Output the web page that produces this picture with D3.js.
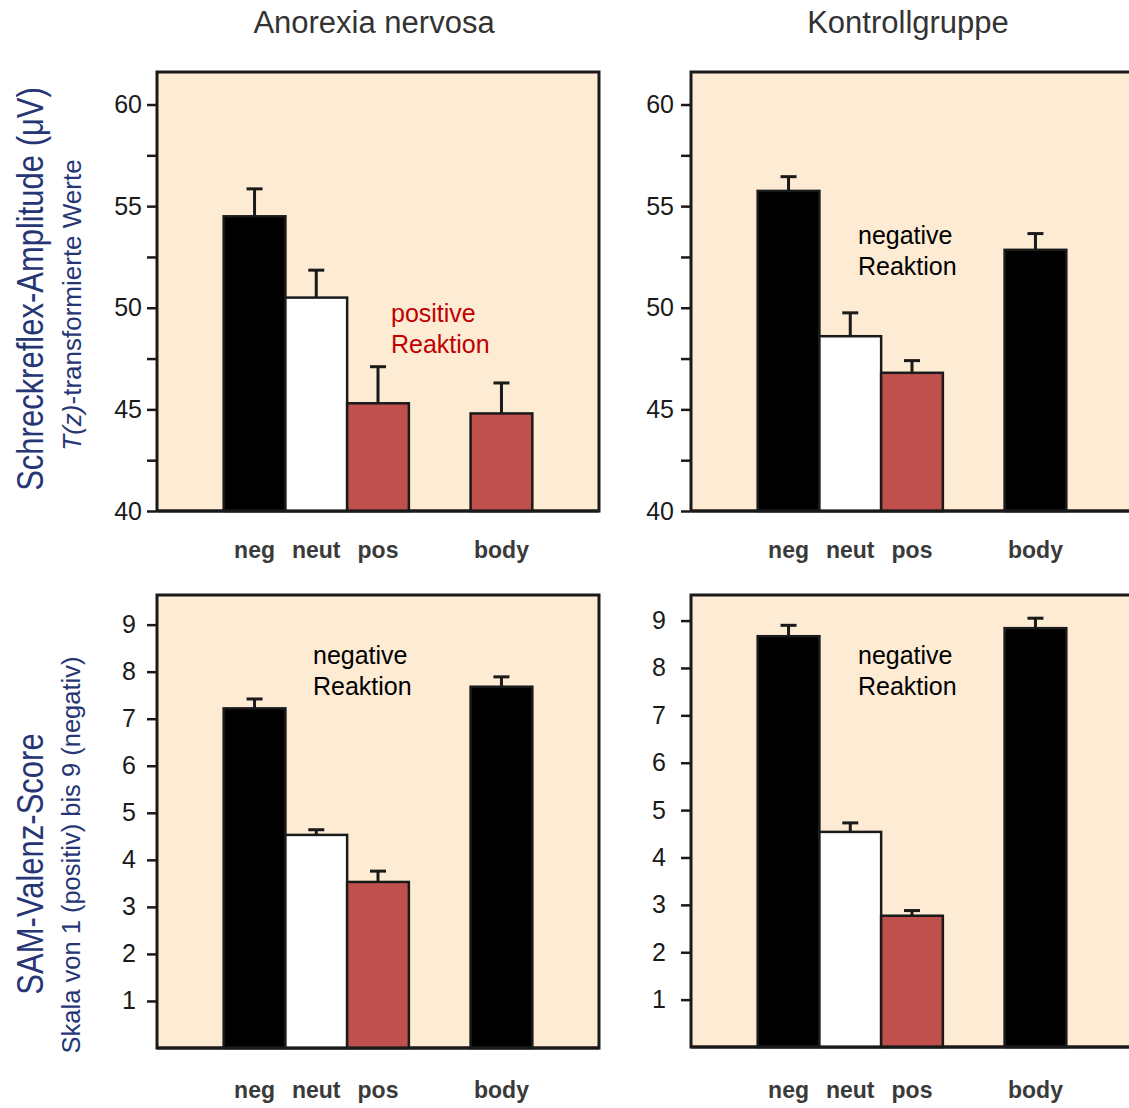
<!DOCTYPE html>
<html>
<head>
<meta charset="utf-8">
<script src="https://cdn.jsdelivr.net/npm/d3@7"></script>
<style>
  body { margin: 0; background: #fff; }
  text { font-family: "Liberation Sans", Arial, sans-serif; }
</style>
</head>
<body>
<div id="chart"></div>
<script>
// categories and values
var categories = ["neg", "neut", "pos", "body"];
var catPos = [0, 1, 2, 4];

var startleAN = [54.5, 50.5, 45.3, 44.8];
var startleANErr = [1.35, 1.35, 1.8, 1.5];
var startleKG = [55.75, 48.6, 46.8, 52.85];
var startleKGErr = [0.7, 1.15, 0.6, 0.8];

var samAN = [7.22, 4.53, 3.53, 7.68];
var samANErr = [0.2, 0.11, 0.23, 0.21];
var samKG = [8.67, 4.54, 2.77, 8.84];
var samKGErr = [0.23, 0.19, 0.11, 0.21];

var startleTicks = [40, 42.5, 45, 47.5, 50, 52.5, 55, 57.5, 60];
var samTicks = [1, 2, 3, 4, 5, 6, 7, 8, 9];

var titles = ["Anorexia nervosa", "Kontrollgruppe"];

var svgWidth = 1129;
var svgHeight = 1108;

var red = "#c0504d";
var bg = "#fdebd4";

var svg = d3.select("#chart")
  .append("svg")
  .attr("width", svgWidth)
  .attr("height", svgHeight);

var panels = [
  { values: startleAN, errs: startleANErr, x0: 157, x1: 599, top: 72, bottom: 511,
    domain: [40, 61.6], ticks: startleTicks, pad: 5,
    fills: ["#000", "#fff", red, red], labelY: 558,
    note: ["positive", "Reaktion"], noteX: 391, noteY: 322, noteColor: "#c00000" },
  { values: startleKG, errs: startleKGErr, x0: 691, x1: 1133, top: 72, bottom: 511,
    domain: [40, 61.6], ticks: startleTicks, pad: 7,
    fills: ["#000", "#fff", red, "#000"], labelY: 558,
    note: ["negative", "Reaktion"], noteX: 858, noteY: 244, noteColor: "#000" },
  { values: samAN, errs: samANErr, x0: 157, x1: 599, top: 595, bottom: 1048,
    domain: [0, 9.63], ticks: samTicks, pad: 11,
    fills: ["#000", "#fff", red, "#000"], labelY: 1098,
    note: ["negative", "Reaktion"], noteX: 313, noteY: 664, noteColor: "#000" },
  { values: samKG, errs: samKGErr, x0: 691, x1: 1133, top: 595, bottom: 1047,
    domain: [0, 9.54], ticks: samTicks, pad: 15,
    fills: ["#000", "#fff", red, "#000"], labelY: 1098,
    note: ["negative", "Reaktion"], noteX: 858, noteY: 664, noteColor: "#000" }
];

panels.forEach(function(p) {
  var x = d3.scaleLinear().domain([-1.58, 5.58]).range([p.x0, p.x1]);
  var y = d3.scaleLinear().domain(p.domain).range([p.bottom, p.top]);
  var bw = x(1) - x(0);

  var g = svg.append("g");

  g.append("rect")
    .attr("x", p.x0)
    .attr("y", p.top)
    .attr("width", p.x1 - p.x0)
    .attr("height", p.bottom - p.top)
    .attr("fill", bg)
    .attr("stroke", "#1a1a1a")
    .attr("stroke-width", 3);

  var data = categories.map(function(c, i) {
    return { cat: c, pos: catPos[i], v: p.values[i], e: p.errs[i], fill: p.fills[i] };
  });

  // error bars (drawn first so bar outline sits on top)
  var eb = g.selectAll(".err").data(data).enter().append("g");
  eb.append("line")
    .attr("x1", d => x(d.pos)).attr("x2", d => x(d.pos))
    .attr("y1", d => y(d.v)).attr("y2", d => y(d.v + d.e))
    .attr("stroke", "#1a1a1a").attr("stroke-width", 3);
  eb.append("line")
    .attr("x1", d => x(d.pos) - 8).attr("x2", d => x(d.pos) + 8)
    .attr("y1", d => y(d.v + d.e)).attr("y2", d => y(d.v + d.e))
    .attr("stroke", "#1a1a1a").attr("stroke-width", 3);

  g.selectAll(".bar").data(data).enter().append("rect")
    .attr("x", d => x(d.pos) - bw / 2)
    .attr("y", d => y(d.v))
    .attr("width", bw)
    .attr("height", d => y(p.domain[0]) - y(d.v))
    .attr("fill", d => d.fill)
    .attr("stroke", "#1a1a1a")
    .attr("stroke-width", 2.5);

  // frame bottom drawn again over the bars
  g.append("line")
    .attr("x1", p.x0).attr("x2", p.x1)
    .attr("y1", p.bottom).attr("y2", p.bottom)
    .attr("stroke", "#1a1a1a").attr("stroke-width", 3);

  var leftAxis = d3.axisLeft(y)
    .tickValues(p.ticks)
    .tickSize(9)
    .tickPadding(p.pad)
    .tickFormat(d => (p.ticks === samTicks || d % 5 === 0) ? d3.format("d")(d) : "");

  var ax = g.append("g")
    .attr("transform", `translate(${p.x0 - 1}, 0)`)
    .call(leftAxis);
  ax.select(".domain").remove();
  ax.selectAll(".tick line").attr("stroke", "#1a1a1a").attr("stroke-width", 2.5);
  ax.selectAll(".tick text")
    .attr("fill", "#1a1a1a")
    .style("font-size", "25px")
    .style("font-family", "'Liberation Sans', Arial, sans-serif");

  g.selectAll(".xlab").data(data).enter().append("text")
    .attr("x", d => x(d.pos))
    .attr("y", p.labelY)
    .attr("text-anchor", "middle")
    .attr("fill", "#3a3a3a")
    .style("font-size", "23px")
    .style("font-weight", "bold")
    .text(d => d.cat);

  var note = g.append("text")
    .attr("x", p.noteX)
    .attr("y", p.noteY)
    .attr("fill", p.noteColor)
    .style("font-size", "25px");
  note.selectAll("tspan").data(p.note).enter().append("tspan")
    .attr("x", p.noteX)
    .attr("dy", (d, i) => i === 0 ? 0 : 31)
    .text(d => d);
});

// column titles
svg.append("text")
  .attr("x", 374).attr("y", 33)
  .attr("text-anchor", "middle")
  .attr("fill", "#333")
  .style("font-size", "31px")
  .text(titles[0]);

svg.append("text")
  .attr("x", 908).attr("y", 33)
  .attr("text-anchor", "middle")
  .attr("fill", "#333")
  .style("font-size", "31px")
  .text(titles[1]);

// y axis titles
var navy = "#263675";

svg.append("text")
  .attr("transform", "translate(43, 289) rotate(-90) scale(1, 1.2)")
  .attr("text-anchor", "middle")
  .attr("fill", navy)
  .style("font-size", "31px")
  .text("Schreckreflex-Amplitude (μV)");

var sub = svg.append("text")
  .attr("transform", "translate(81, 305) rotate(-90)")
  .attr("text-anchor", "middle")
  .attr("fill", navy)
  .style("font-size", "26px");
sub.append("tspan").style("font-style", "italic").text("T(z)");
sub.append("tspan").text("-transformierte Werte");

svg.append("text")
  .attr("transform", "translate(43, 864) rotate(-90) scale(1, 1.2)")
  .attr("text-anchor", "middle")
  .attr("fill", navy)
  .style("font-size", "31px")
  .text("SAM-Valenz-Score");

svg.append("text")
  .attr("transform", "translate(80, 855) rotate(-90)")
  .attr("text-anchor", "middle")
  .attr("fill", navy)
  .style("font-size", "25.5px")
  .text("Skala von 1 (positiv) bis 9 (negativ)");
</script>
</body>
</html>
